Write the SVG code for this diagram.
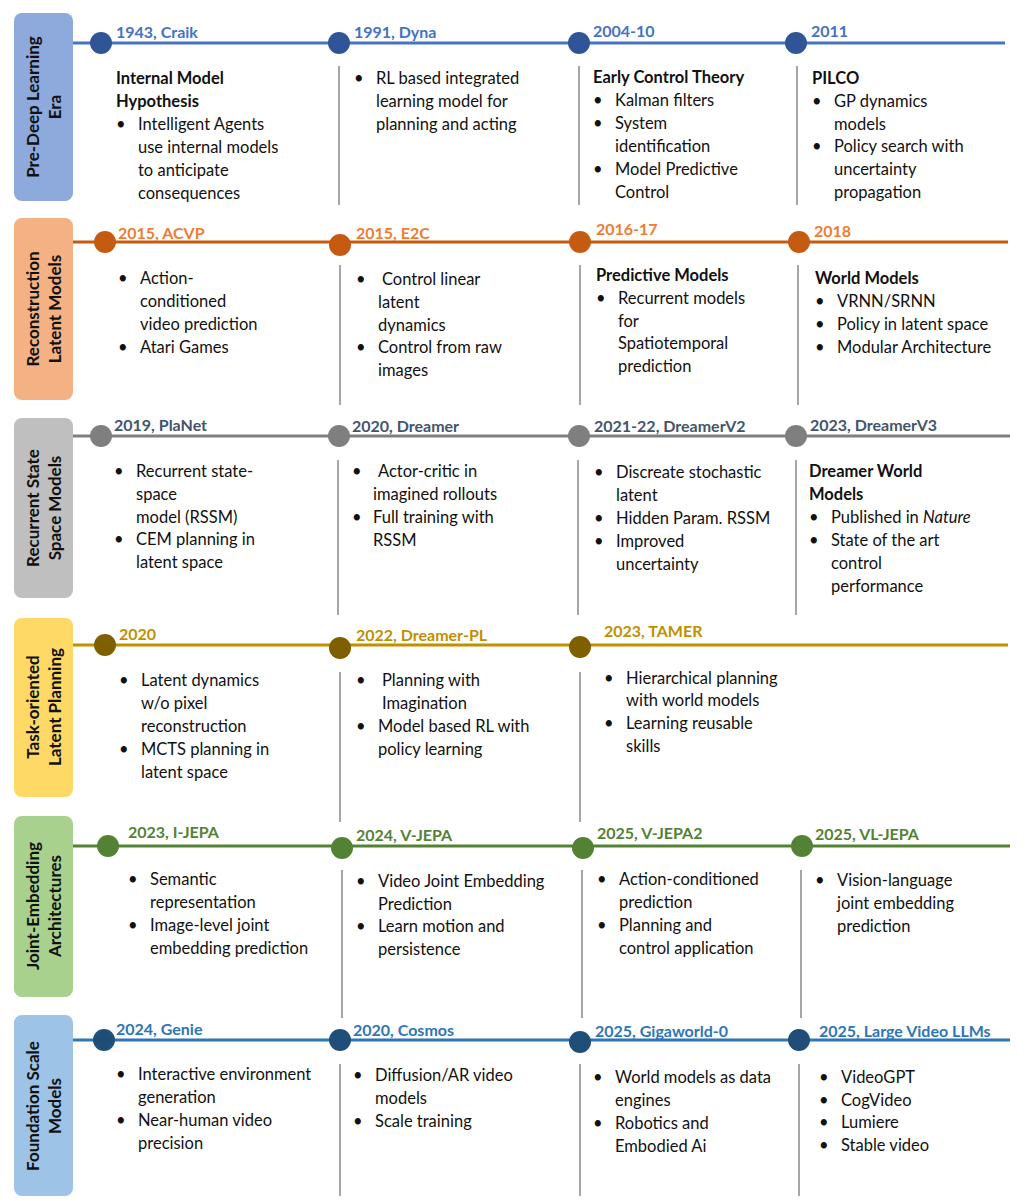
<svg xmlns="http://www.w3.org/2000/svg" width="1027" height="1201" viewBox="0 0 1027 1201">
<style>
text{font-family:Lato,"Open Sans","Liberation Sans",sans-serif;font-size:16.5px;fill:#111}
.b{font-weight:bold}
.y{font-weight:bold;font-size:16px}
.lab{font-weight:bold;font-size:17px;fill:#111;text-anchor:middle}
.div{stroke:#A6A6A6;stroke-width:2}
</style>
<rect width="1027" height="1201" fill="#fff"/>
<g id="connectors">
<line x1="68" y1="43" x2="1005" y2="43" stroke="#4472C4" stroke-width="3"/>
<line x1="68" y1="242" x2="1008" y2="242" stroke="#C55A11" stroke-width="3"/>
<line x1="68" y1="436" x2="1010" y2="436" stroke="#7F7F7F" stroke-width="3"/>
<line x1="68" y1="645" x2="1008" y2="645" stroke="#BF9000" stroke-width="3"/>
<line x1="68" y1="846" x2="1010" y2="846" stroke="#548235" stroke-width="3"/>
<line x1="68" y1="1040" x2="1010" y2="1040" stroke="#2E75B6" stroke-width="3"/>
<line class="div" x1="339" y1="66" x2="339" y2="205"/><line class="div" x1="579" y1="66" x2="579" y2="205"/><line class="div" x1="797" y1="66" x2="797" y2="205"/>
<line class="div" x1="340" y1="265" x2="340" y2="405"/><line class="div" x1="580" y1="265" x2="580" y2="405"/><line class="div" x1="798" y1="265" x2="798" y2="405"/>
<line class="div" x1="338" y1="460" x2="338" y2="615"/><line class="div" x1="578" y1="460" x2="578" y2="615"/><line class="div" x1="796" y1="460" x2="796" y2="615"/>
<line class="div" x1="340" y1="672" x2="340" y2="822"/><line class="div" x1="580" y1="672" x2="580" y2="822"/>
<line class="div" x1="342" y1="870" x2="342" y2="1018"/><line class="div" x1="582" y1="870" x2="582" y2="1018"/><line class="div" x1="801" y1="870" x2="801" y2="1018"/>
<line class="div" x1="340" y1="1064" x2="340" y2="1196"/><line class="div" x1="580" y1="1064" x2="580" y2="1196"/><line class="div" x1="799" y1="1064" x2="799" y2="1196"/>
</g>
<g id="row1">
<rect x="14" y="13" width="59" height="188" rx="8" fill="#8EA9DB"/>
<text class="lab" transform="translate(43,107) rotate(-90)"><tspan x="0" y="-4">Pre-Deep Learning</tspan><tspan x="0" y="18">Era</tspan></text>
<g fill="#2F5597"><circle cx="101" cy="43" r="11"/><circle cx="339" cy="43" r="11"/><circle cx="579" cy="43" r="11"/><circle cx="796" cy="43" r="11"/></g>
<g class="y" fill="#4472C4"><text class="y" x="116" y="38" style="fill:#4472C4">1943, Craik</text><text class="y" x="354" y="38" style="fill:#4472C4">1991, Dyna</text><text class="y" x="593" y="37" style="fill:#4472C4">2004-10</text><text class="y" x="811" y="37" style="fill:#4472C4">2011</text></g>
<text class="b" x="116" y="84">Internal Model</text><text class="b" x="116" y="107">Hypothesis</text>
<text x="116" y="130">•</text><text x="138" y="130">Intelligent Agents</text><text x="138" y="153">use internal models</text><text x="138" y="176">to anticipate</text><text x="138" y="199">consequences</text>
<text x="354" y="84">•</text><text x="376" y="84">RL based integrated</text><text x="376" y="107">learning model for</text><text x="376" y="130">planning and acting</text>
<text class="b" x="593" y="83">Early Control Theory</text>
<text x="593" y="106">•</text><text x="615" y="106">Kalman filters</text><text x="593" y="129">•</text><text x="615" y="129">System</text><text x="615" y="152">identification</text><text x="593" y="175">•</text><text x="615" y="175">Model Predictive</text><text x="615" y="198">Control</text>
<text class="b" x="812" y="84">PILCO</text>
<text x="812" y="107">•</text><text x="834" y="107">GP dynamics</text><text x="834" y="130">models</text><text x="812" y="152">•</text><text x="834" y="152">Policy search with</text><text x="834" y="175">uncertainty</text><text x="834" y="198">propagation</text>
</g>
<g id="row2">
<rect x="14" y="218" width="59" height="182" rx="8" fill="#F4B183"/>
<text class="lab" transform="translate(43,309) rotate(-90)"><tspan x="0" y="-4">Reconstruction</tspan><tspan x="0" y="18">Latent Models</tspan></text>
<g fill="#C55A11"><circle cx="105" cy="242" r="11"/><circle cx="340" cy="245" r="11"/><circle cx="580" cy="242" r="11"/><circle cx="799" cy="242" r="11"/></g>
<text class="y" x="118" y="239" style="fill:#ED7D31">2015, ACVP</text><text class="y" x="356" y="239" style="fill:#ED7D31">2015, E2C</text><text class="y" x="596" y="235" style="fill:#ED7D31">2016-17</text><text class="y" x="814" y="237" style="fill:#ED7D31">2018</text>
<text x="118" y="284">•</text><text x="140" y="284">Action-</text><text x="140" y="307">conditioned</text><text x="140" y="330">video prediction</text><text x="118" y="353">•</text><text x="140" y="353">Atari Games</text>
<text x="356" y="285">•</text><text x="382" y="285">Control linear</text><text x="378" y="308">latent</text><text x="378" y="331">dynamics</text><text x="356" y="353">•</text><text x="378" y="353">Control from raw</text><text x="378" y="376">images</text>
<text class="b" x="596" y="281">Predictive Models</text>
<text x="596" y="304">•</text><text x="618" y="304">Recurrent models</text><text x="618" y="327">for</text><text x="618" y="349">Spatiotemporal</text><text x="618" y="372">prediction</text>
<text class="b" x="815" y="284">World Models</text>
<text x="815" y="307">•</text><text x="837" y="307">VRNN/SRNN</text><text x="815" y="330">•</text><text x="837" y="330">Policy in latent space</text><text x="815" y="353">•</text><text x="837" y="353">Modular Architecture</text>
</g>
<g id="row3">
<rect x="14" y="418" width="59" height="180" rx="8" fill="#BFBFBF"/>
<text class="lab" transform="translate(43,508) rotate(-90)"><tspan x="0" y="-4">Recurrent State</tspan><tspan x="0" y="18">Space Models</tspan></text>
<g fill="#7F7F7F"><circle cx="101" cy="436" r="11"/><circle cx="339" cy="436" r="11"/><circle cx="579" cy="436" r="11"/><circle cx="796" cy="436" r="11"/></g>
<text class="y" x="114" y="431" style="fill:#44546A">2019, PlaNet</text><text class="y" x="352" y="432" style="fill:#44546A">2020, Dreamer</text><text class="y" x="594" y="432" style="fill:#44546A">2021-22, DreamerV2</text><text class="y" x="810" y="431" style="fill:#44546A">2023, DreamerV3</text>
<text x="114" y="477">•</text><text x="136" y="477">Recurrent state-</text><text x="136" y="500">space</text><text x="136" y="523">model (RSSM)</text><text x="114" y="545">•</text><text x="136" y="545">CEM planning in</text><text x="136" y="568">latent space</text>
<text x="352" y="477">•</text><text x="378" y="477">Actor-critic in</text><text x="373" y="500">imagined rollouts</text><text x="352" y="523">•</text><text x="373" y="523">Full training with</text><text x="373" y="546">RSSM</text>
<text x="594" y="478">•</text><text x="616" y="478">Discreate stochastic</text><text x="616" y="501">latent</text><text x="594" y="524">•</text><text x="616" y="524">Hidden Param. RSSM</text><text x="594" y="547">•</text><text x="616" y="547">Improved</text><text x="616" y="570">uncertainty</text>
<text class="b" x="809" y="477">Dreamer World</text><text class="b" x="809" y="500">Models</text>
<text x="809" y="523">•</text><text x="831" y="523">Published in <tspan font-style="italic">Nature</tspan></text><text x="809" y="546">•</text><text x="831" y="546">State of the art</text><text x="831" y="569">control</text><text x="831" y="592">performance</text>
</g>
<g id="row4">
<rect x="14" y="618" width="59" height="179" rx="8" fill="#FFD966"/>
<text class="lab" transform="translate(43,707) rotate(-90)"><tspan x="0" y="-4">Task-oriented</tspan><tspan x="0" y="18">Latent Planning</tspan></text>
<g fill="#7F6000"><circle cx="105" cy="645" r="11"/><circle cx="340" cy="648" r="11"/><circle cx="580" cy="647" r="11"/></g>
<text class="y" x="119" y="640" style="fill:#BF9000">2020</text><text class="y" x="356" y="641" style="fill:#BF9000">2022, Dreamer-PL</text><text class="y" x="604" y="637" style="fill:#BF9000">2023, TAMER</text>
<text x="119" y="686">•</text><text x="141" y="686">Latent dynamics</text><text x="141" y="709">w/o pixel</text><text x="141" y="732">reconstruction</text><text x="119" y="755">•</text><text x="141" y="755">MCTS planning in</text><text x="141" y="778">latent space</text>
<text x="356" y="686">•</text><text x="382" y="686">Planning with</text><text x="382" y="709">Imagination</text><text x="356" y="732">•</text><text x="378" y="732">Model based RL with</text><text x="378" y="755">policy learning</text>
<text x="604" y="684">•</text><text x="626" y="684">Hierarchical planning</text><text x="626" y="706">with world models</text><text x="604" y="729">•</text><text x="626" y="729">Learning reusable</text><text x="626" y="752">skills</text>
</g>
<g id="row5">
<rect x="14" y="816" width="59" height="181" rx="8" fill="#A9D18E"/>
<text class="lab" transform="translate(43,906) rotate(-90)"><tspan x="0" y="-4">Joint-Embedding</tspan><tspan x="0" y="18">Architectures</tspan></text>
<g fill="#548235"><circle cx="108" cy="846" r="11"/><circle cx="342" cy="848" r="11"/><circle cx="583" cy="848" r="11"/><circle cx="802" cy="846" r="11"/></g>
<text class="y" x="128" y="838" style="fill:#548235">2023, I-JEPA</text><text class="y" x="356" y="841" style="fill:#548235">2024, V-JEPA</text><text class="y" x="597" y="839" style="fill:#548235">2025, V-JEPA2</text><text class="y" x="815" y="840" style="fill:#548235">2025, VL-JEPA</text>
<text x="128" y="885">•</text><text x="150" y="885">Semantic</text><text x="150" y="908">representation</text><text x="128" y="931">•</text><text x="150" y="931">Image-level joint</text><text x="150" y="954">embedding prediction</text>
<text x="356" y="887">•</text><text x="378" y="887">Video Joint Embedding</text><text x="378" y="910">Prediction</text><text x="356" y="932">•</text><text x="378" y="932">Learn motion and</text><text x="378" y="955">persistence</text>
<text x="597" y="885">•</text><text x="619" y="885">Action-conditioned</text><text x="619" y="908">prediction</text><text x="597" y="931">•</text><text x="619" y="931">Planning and</text><text x="619" y="954">control application</text>
<text x="815" y="886">•</text><text x="837" y="886">Vision-language</text><text x="837" y="909">joint embedding</text><text x="837" y="932">prediction</text>
</g>
<g id="row6">
<rect x="14" y="1015" width="59" height="181" rx="8" fill="#9DC3E6"/>
<text class="lab" transform="translate(43,1106) rotate(-90)"><tspan x="0" y="-4">Foundation Scale</tspan><tspan x="0" y="18">Models</tspan></text>
<g fill="#1F4E79"><circle cx="104" cy="1040" r="11"/><circle cx="340" cy="1040" r="11"/><circle cx="580" cy="1042" r="11"/><circle cx="799" cy="1040" r="11"/></g>
<text class="y" x="116" y="1035" style="fill:#2E75B6">2024, Genie</text><text class="y" x="353" y="1036" style="fill:#2E75B6">2020, Cosmos</text><text class="y" x="595" y="1037" style="fill:#2E75B6">2025, Gigaworld-0</text><text class="y" x="819" y="1037" style="fill:#2E75B6">2025, Large Video LLMs</text>
<text x="116" y="1080">•</text><text x="138" y="1080">Interactive environment</text><text x="138" y="1103">generation</text><text x="116" y="1126">•</text><text x="138" y="1126">Near-human video</text><text x="138" y="1149">precision</text>
<text x="353" y="1081">•</text><text x="375" y="1081">Diffusion/AR video</text><text x="375" y="1104">models</text><text x="353" y="1127">•</text><text x="375" y="1127">Scale training</text>
<text x="593" y="1083">•</text><text x="615" y="1083">World models as data</text><text x="615" y="1106">engines</text><text x="593" y="1129">•</text><text x="615" y="1129">Robotics and</text><text x="615" y="1152">Embodied Ai</text>
<text x="819" y="1083">•</text><text x="841" y="1083">VideoGPT</text><text x="819" y="1106">•</text><text x="841" y="1106">CogVideo</text><text x="819" y="1128">•</text><text x="841" y="1128">Lumiere</text><text x="819" y="1151">•</text><text x="841" y="1151">Stable video</text>
</g>
</svg>
